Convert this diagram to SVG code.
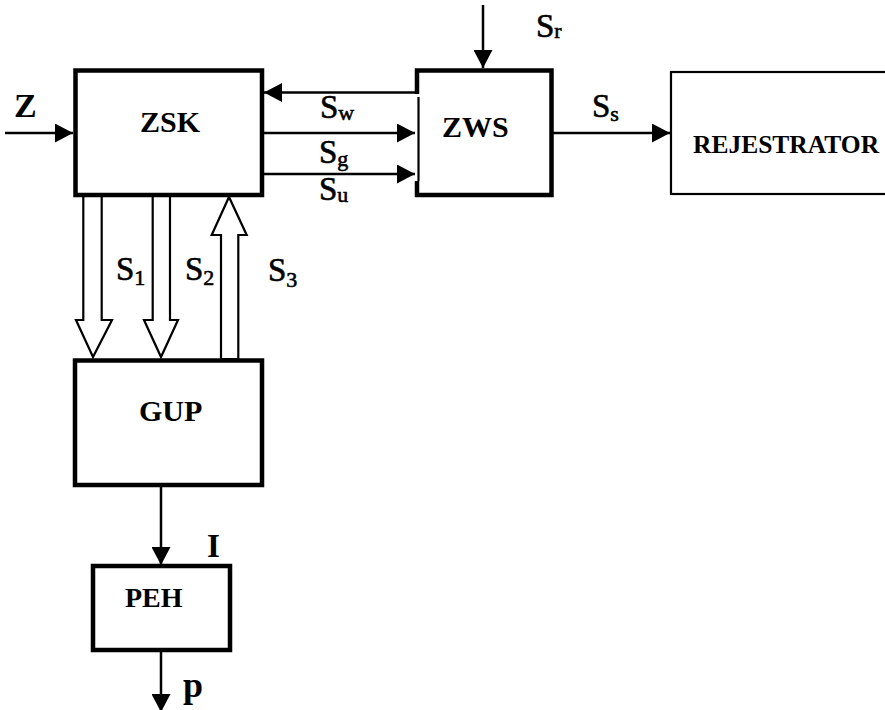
<svg xmlns="http://www.w3.org/2000/svg" width="885" height="710" viewBox="0 0 885 710">
<style>
.box{fill:none;stroke:#000;stroke-width:4.5}
.thin{fill:none;stroke:#000;stroke-width:2.2}
.conn{fill:none;stroke:#000;stroke-width:2.5}
.hollow{fill:#fff;stroke:#000;stroke-width:2.2;stroke-linejoin:miter}
.name{font-family:"Liberation Serif","Times New Roman",serif;font-weight:bold;fill:#000}
.lbl{font-family:"Liberation Serif","Times New Roman",serif;fill:#000;stroke:#000;stroke-width:0.6}
.blbl{font-family:"Liberation Serif","Times New Roman",serif;font-weight:bold;fill:#000}
</style>
<defs>
<marker id="ah" markerUnits="userSpaceOnUse" markerWidth="18" markerHeight="19" refX="18" refY="9.5" orient="auto">
<path d="M0,0 L18,9.5 L0,19 z" fill="#000"/>
</marker>
</defs>
<rect width="885" height="710" fill="#fff"/>
<g id="connectors">
<line class="conn" x1="5" y1="133" x2="73" y2="133" marker-end="url(#ah)"/>
<line class="conn" x1="417" y1="92.5" x2="264" y2="92.5" marker-end="url(#ah)"/>
<line class="conn" x1="262" y1="133" x2="415" y2="133" marker-end="url(#ah)"/>
<line class="conn" x1="262" y1="174" x2="415" y2="174" marker-end="url(#ah)"/>
<line class="conn" x1="483" y1="5" x2="483" y2="68" marker-end="url(#ah)"/>
<line class="conn" x1="552" y1="133" x2="670" y2="133" marker-end="url(#ah)"/>
<line class="conn" x1="161" y1="485" x2="161" y2="565" marker-end="url(#ah)"/>
<line class="conn" x1="161" y1="650" x2="161" y2="712" marker-end="url(#ah)"/>
<polygon class="hollow" points="83.3,196 101.7,196 101.7,320 112,320 93,357 76,320 83.3,320"/>
<polygon class="hollow" points="152.7,196 170,196 170,320 178,320 161,357 144,320 152.7,320"/>
<polygon class="hollow" points="221,359 238.3,359 238.3,235 246.7,235 229,197 211.7,235 221,235"/>
</g>
<g id="ZSK">
<rect class="box" x="75.5" y="70.5" width="186.5" height="124.5"/>
<text class="name" x="140" y="132" font-size="30">ZSK</text>
</g>
<g id="ZWS">
<path class="box" d="M417,94 V70.5 H551.5 V195 H417 V181"/>
<line class="thin" x1="418.5" y1="97" x2="418.5" y2="181"/>
<text class="name" x="442" y="137" font-size="30">ZWS</text>
</g>
<g id="REJESTRATOR">
<rect class="thin" x="671" y="72" width="240" height="122"/>
<text class="name" x="693" y="153" font-size="25.5">REJESTRATOR</text>
</g>
<g id="GUP">
<rect class="box" x="75" y="360.5" width="187" height="124.5"/>
<text class="name" x="139" y="421" font-size="30">GUP</text>
</g>
<g id="PEH">
<rect class="box" x="93" y="566" width="137" height="84"/>
<text class="name" x="125" y="607" font-size="28">PEH</text>
</g>
<g id="labels">
<text class="blbl" x="14" y="117" font-size="34">Z</text>
<text class="lbl" x="320" y="118" font-size="33">S<tspan font-size="22" dy="2">w</tspan></text>
<text class="lbl" x="319" y="163" font-size="33">S<tspan font-size="22" dy="3">g</tspan></text>
<text class="lbl" x="319" y="200" font-size="33">S<tspan font-size="22" dy="2">u</tspan></text>
<text class="lbl" x="536" y="37" font-size="33">S<tspan font-size="22" dy="1">r</tspan></text>
<text class="lbl" x="592" y="117" font-size="33">S<tspan font-size="22" dy="4">s</tspan></text>
<text class="lbl" x="116" y="280" font-size="33">S<tspan font-size="22" dy="5">1</tspan></text>
<text class="lbl" x="185" y="280" font-size="33">S<tspan font-size="22" dy="5">2</tspan></text>
<text class="lbl" x="268" y="281" font-size="33">S<tspan font-size="22" dy="6">3</tspan></text>
<text class="blbl" x="207" y="557" font-size="33">I</text>
<text class="blbl" x="183" y="697" font-size="36">p</text>
</g>
</svg>
